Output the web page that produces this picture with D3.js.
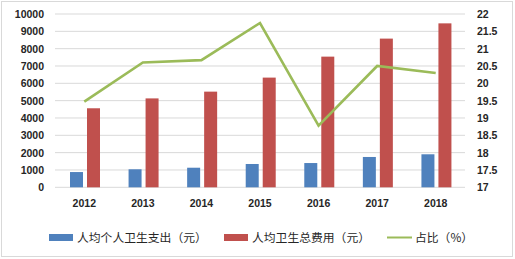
<!DOCTYPE html>
<html><head><meta charset="utf-8">
<script src="https://cdn.jsdelivr.net/npm/d3@7/dist/d3.min.js"></script>
<style>body{margin:0;background:#fff}svg{display:block}</style>
</head><body><svg id="c" width="515" height="259"></svg>
<script>
const years = ["2012","2013","2014","2015","2016","2017","2018"];
const personal = [880, 1040, 1130, 1345, 1400, 1750, 1905];
const total = [4560, 5130, 5520, 6330, 7540, 8580, 9460];
const ratio = [19.47, 20.6, 20.67, 21.74, 18.78, 20.5, 20.3];
const leftTicks = [0,1000,2000,3000,4000,5000,6000,7000,8000,9000,10000];
const rightTicks = [17,17.5,18,18.5,19,19.5,20,20.5,21,21.5,22];
const legendLabels = ["人均个人卫生支出（元）","人均卫生总费用（元）","占比（%）"];
const colors = ["#4F81BD","#C0504D","#9BBB59"];

const svg = d3.select("#c");
svg.append("rect").attr("x",1.5).attr("y",1.5).attr("width",511).attr("height",255)
  .attr("fill","#fff").attr("stroke","#d9d9d9");

const x = d3.scaleBand().domain(years).range([55,465]);
const yL = d3.scaleLinear().domain([0,10000]).range([187.3,14]);
const yR = d3.scaleLinear().domain([17,22]).range([187.3,14]);

// gridlines
svg.append("g").selectAll("line").data(leftTicks).join("line")
  .attr("x1",55).attr("x2",465).attr("y1",d=>yL(d)).attr("y2",d=>yL(d))
  .attr("stroke","#d9d9d9").attr("stroke-width",1);

const font = "'Liberation Sans', Arial, sans-serif";
// left axis
const gl = svg.append("g").attr("transform","translate(47,0)")
  .call(d3.axisLeft(yL).tickValues(leftTicks).tickSize(0).tickPadding(3).tickFormat(d3.format("d")));
gl.select(".domain").remove();
gl.selectAll("text").attr("font-family",font).attr("font-size",10.5).attr("font-weight","bold").attr("fill","#262626");
// right axis
const gr = svg.append("g").attr("transform","translate(474,0)")
  .call(d3.axisRight(yR).tickValues(rightTicks).tickSize(0).tickPadding(3).tickFormat(d=>String(d)));
gr.select(".domain").remove();
gr.selectAll("text").attr("font-family",font).attr("font-size",10.5).attr("font-weight","bold").attr("fill","#262626");
// bottom axis
const gb = svg.append("g").attr("transform","translate(0,194)")
  .call(d3.axisBottom(x).tickSize(0).tickPadding(6));
gb.select(".domain").remove();
gb.selectAll("text").attr("font-family",font).attr("font-size",10.5).attr("font-weight","bold").attr("fill","#262626");

const bw = 13;
svg.append("g").selectAll("rect").data(years).join("rect")
  .attr("x",d=>x(d)+15).attr("width",bw)
  .attr("y",(d,i)=>yL(personal[i])).attr("height",(d,i)=>yL(0)-yL(personal[i]))
  .attr("fill",colors[0]);
svg.append("g").selectAll("rect").data(years).join("rect")
  .attr("x",d=>x(d)+32).attr("width",bw)
  .attr("y",(d,i)=>yL(total[i])).attr("height",(d,i)=>yL(0)-yL(total[i]))
  .attr("fill",colors[1]);

const line = d3.line().x((d,i)=>x(years[i])+x.bandwidth()/2).y(d=>yR(d));
svg.append("path").datum(ratio).attr("d",line).attr("fill","none")
  .attr("stroke",colors[2]).attr("stroke-width",2.6).attr("stroke-linejoin","miter");

// legend
const lg = svg.append("g");
const lx = [49,224,387];
legendLabels.forEach((t,i)=>{
  if(i<2) lg.append("rect").attr("x",lx[i]).attr("y",234).attr("width",24).attr("height",7).attr("fill",colors[i]);
  else lg.append("line").attr("x1",lx[i]).attr("x2",lx[i]+25).attr("y1",237.5).attr("y2",237.5).attr("stroke",colors[i]).attr("stroke-width",2);
  lg.append("text").attr("x",lx[i]+28).attr("y",237.5).attr("dy","0.36em")
    .attr("font-family","'Noto Sans CJK SC', sans-serif").attr("font-size",11.8).attr("fill","#262626").text(t);
});
</script></body></html>
